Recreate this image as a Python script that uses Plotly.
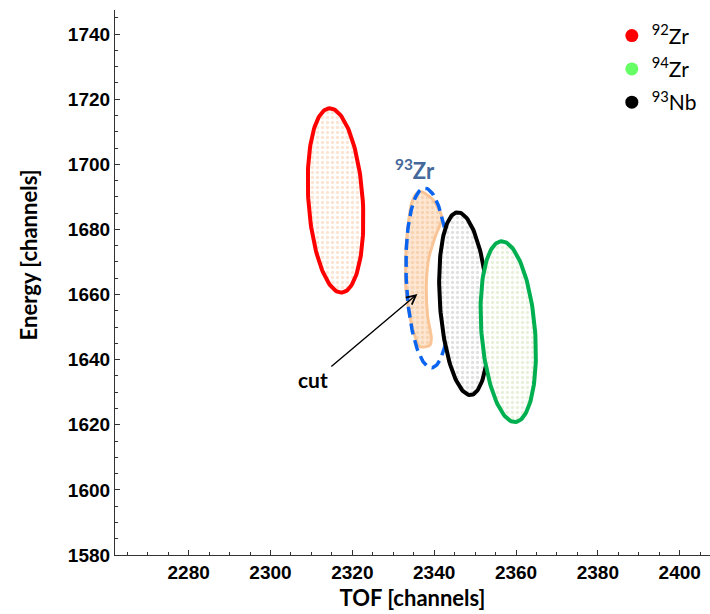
import numpy as np
import plotly.graph_objects as go

# Particle-identification gates in the TOF / Energy plane
isotopes = ["92Zr", "94Zr", "93Nb"]
legend_colors = ["#ff0000", "#66ff66", "#000000"]
outline_colors = ["#ff0000", "#00b050", "#000000"]
dot_colors = ["#f7c9a6", "#d3e2b4", "#c4c4c4"]

# ellipse gates: centre, half-width, half-height, shear of the top point (channels)
gate_tof = [2315.9, 2358.1, 2347.3]
gate_energy = [1688.9, 1648.6, 1657.2]
gate_half_tof = [6.65, 6.57, 5.9]
gate_half_energy = [28.3, 27.75, 28.05]
gate_shear = [-1.4, -1.6, -1.5]

# expected 93Zr region (dashed gate)
zr93_tof, zr93_energy = 2338.5, 1665.1
zr93_half_tof, zr93_half_energy, zr93_shear = 5.35, 27.6, -0.8

# the applied cut contour
cut_tof = [2335.7, 2336.9, 2339.7, 2341.9, 2340.4, 2338.7, 2338.1, 2338.4,
           2339.3, 2338.9, 2336.5, 2334.5, 2333.1, 2333.2, 2334.5, 2335.7]
cut_energy = [1691.1, 1691.6, 1689.1, 1683.6, 1678.3, 1671.3, 1663.6, 1653.3,
              1646.7, 1644.4, 1644.0, 1650.7, 1661.5, 1675.9, 1688.1, 1691.1]

x_range = [2262.0, 2407.4]
y_range = [1580.0, 1747.4]
x_ticks = [2280, 2300, 2320, 2340, 2360, 2380, 2400]
y_ticks = [1580, 1600, 1620, 1640, 1660, 1680, 1700, 1720, 1740]


def ellipse(cx, cy, rx, ry, sx, n=160):
    t = np.linspace(0, 2 * np.pi, n)
    return cx + rx * np.cos(t) + sx * np.sin(t), cy + ry * np.sin(t)


fig = go.Figure()

# cut contour
fig.add_trace(go.Scatter(
    x=cut_tof, y=cut_energy, mode="lines", fill="toself",
    line=dict(color="#f9c596", width=3, shape="spline", smoothing=0.7),
    fillcolor="#fde3cc",
    fillpattern=dict(shape=".", fgcolor="#f4bf92", bgcolor="#fde6d2", size=5, solidity=0.35),
    showlegend=False, hoverinfo="skip"))

# dashed 93Zr gate
ex, ey = ellipse(zr93_tof, zr93_energy, zr93_half_tof, zr93_half_energy, zr93_shear)
fig.add_trace(go.Scatter(
    x=ex, y=ey, mode="lines",
    line=dict(color="#0a64f0", width=3.5, dash="11px,6px"),
    showlegend=False, hoverinfo="skip"))

# drawing order: 93Nb, 94Zr, 92Zr
for i in [2, 1, 0]:
    ex, ey = ellipse(gate_tof[i], gate_energy[i], gate_half_tof[i],
                     gate_half_energy[i], gate_shear[i])
    fig.add_trace(go.Scatter(
        x=ex, y=ey, mode="lines", fill="toself",
        line=dict(color=outline_colors[i], width=4),
        fillcolor="white",
        fillpattern=dict(shape=".", fgcolor=dot_colors[i], bgcolor="white",
                         size=5, solidity=0.35),
        showlegend=False, hoverinfo="skip"))

# legend entries
for name, col in zip(isotopes, legend_colors):
    fig.add_trace(go.Scatter(
        x=[None], y=[None], mode="markers", legendgroup=name,
        marker=dict(color=col, size=13, symbol="circle"),
        name="<sup>%s</sup>%s" % (name[:2], name[2:])))

fig.add_annotation(x=2335.3, y=1698.3, text="<sup>93</sup>Zr", showarrow=False,
                   font=dict(family="Lato", size=22, color="#44689a", weight="bold"))
fig.add_annotation(x=2310.3, y=1633.9, text="cut", showarrow=False,
                   font=dict(family="Lato", size=21, color="black", weight="bold"))
fig.add_annotation(x=2335.9, y=1660.2, ax=2314.5, ay=1637.5, axref="x", ayref="y",
                   text="", showarrow=True, arrowhead=5, arrowsize=1.3,
                   arrowwidth=1.4, arrowcolor="black")

tickfont = dict(family="Liberation Sans", size=19, color="black", weight="bold")
titlefont = dict(family="Lato", size=22, color="black", weight="bold")

# y-axis title placed as a rotated label
fig.add_annotation(xref="paper", yref="paper", x=-0.146, y=0.55,
                   xanchor="center", yanchor="middle", textangle=-90,
                   text="Energy [channels]", showarrow=False, font=titlefont)

fig.update_xaxes(
    range=x_range, tickvals=x_ticks, ticks="inside", ticklen=5, tickwidth=1,
    tickcolor="#333", showline=True, linecolor="#333", linewidth=1.2,
    showgrid=False, zeroline=False, tickfont=tickfont,
    minor=dict(dtick=5, ticks="inside", ticklen=3, tickcolor="#333", showgrid=False),
    title=dict(text="TOF [channels]", font=titlefont, standoff=8))
fig.update_yaxes(
    range=y_range, tickvals=y_ticks, ticks="inside", ticklen=5, tickwidth=1,
    tickcolor="#333", showline=True, linecolor="#333", linewidth=1.2,
    showgrid=False, zeroline=False, tickfont=tickfont,
    minor=dict(dtick=5, ticks="inside", ticklen=3, tickcolor="#333", showgrid=False))

fig.update_layout(
    width=710, height=614,
    margin=dict(l=115, r=0, t=10, b=59),
    plot_bgcolor="white", paper_bgcolor="white",
    legend=dict(x=0.835, y=0.99, xanchor="left", yanchor="top",
                font=dict(family="Lato", size=21, color="black"),
                bgcolor="rgba(0,0,0,0)", tracegroupgap=3),
)

fig.write_html("out.html")
